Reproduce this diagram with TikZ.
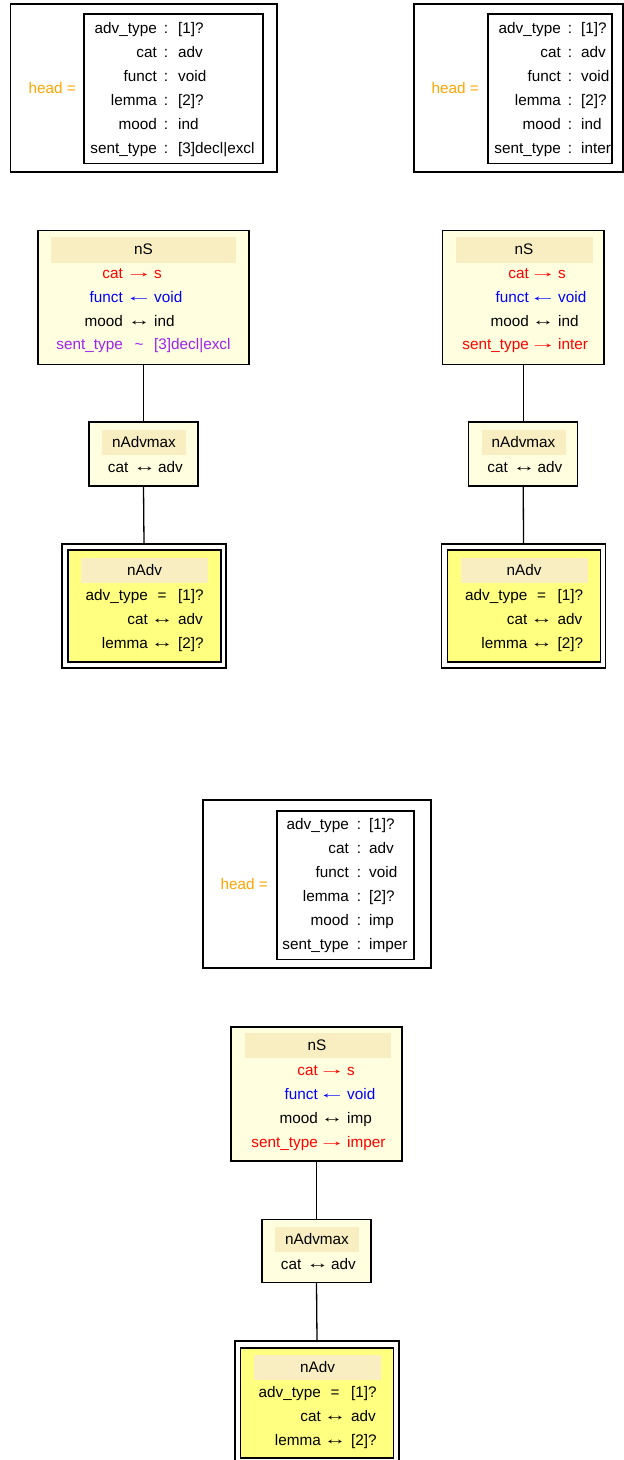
\documentclass[tikz,border=0pt]{standalone}
\usepackage{graphicx}
\usepackage{fontspec}
\setmainfont{Liberation Sans}
\newcommand\ra{\raisebox{0.8pt}{\scalebox{1.8}[1]{→}}}
\newcommand\la{\raisebox{0.8pt}{\scalebox{1.8}[1]{←}}}
\newcommand\lra{\raisebox{0.8pt}{\scalebox{1.5}[1]{↔}}}
\definecolor{nsfill}{HTML}{FFFFE0}
\definecolor{hdr}{HTML}{F8EEC2}
\definecolor{advfill}{HTML}{FFFF80}
\definecolor{headorange}{HTML}{FFA500}
\definecolor{tred}{HTML}{FF0000}
\definecolor{tblue}{HTML}{0000FF}
\definecolor{tpurple}{HTML}{A020F0}
\tikzset{
  txt/.style={inner sep=0pt, font=\fontsize{15.3}{18}\selectfont},
  frame/.style={draw=black, line width=1.1pt, inner sep=0pt},
  nsbox/.style={frame, fill=nsfill},
  advbox/.style={frame, fill=advfill},
  hdrband/.style={fill=hdr, draw=none, inner sep=0pt},
  link/.style={draw=black, line width=1.3pt},
}
\newcommand\frow[9]{%
  \node[txt, text=#9, anchor=base east] (#1a) at (#2,#5+5) {#6};
  \node[txt, text=#9, anchor=base] (#1b) at (#3,#5+5) {#7};
  \node[txt, text=#9, anchor=base west] (#1c) at (#4,#5+5) {#8};}
\begin{document}
\begin{tikzpicture}[x=1pt,y=-1pt]
\useasboundingbox (0,0) rectangle (624,1460);
\fill[white] (0,0) rectangle (624,1460);

% ---------------- head boxes ----------------
% left
\node[frame, minimum width=266.5pt, minimum height=168pt] (hLo) at (143.75,88) {};
\node[frame, minimum width=179pt, minimum height=149.5pt] (hLi) at (173.5,88.75) {};
\node[txt, text=headorange, anchor=base east] (hLlab) at (76,93) {head =};
\frow{hLr1}{157}{166}{178}{28}{adv\_type}{:}{[1]?}{black}
\frow{hLr2}{157}{166}{178}{52}{cat}{:}{adv}{black}
\frow{hLr3}{157}{166}{178}{76}{funct}{:}{void}{black}
\frow{hLr4}{157}{166}{178}{100}{lemma}{:}{[2]?}{black}
\frow{hLr5}{157}{166}{178}{124}{mood}{:}{ind}{black}
\frow{hLr6}{157}{166}{178}{148}{sent\_type}{:}{[3]decl|excl}{black}
% right
\node[frame, minimum width=209pt, minimum height=168pt] (hRo) at (518.5,88) {};
\node[frame, minimum width=124pt, minimum height=149.5pt] (hRi) at (550,88.75) {};
\node[txt, text=headorange, anchor=base east] (hRlab) at (479,93) {head =};
\frow{hRr1}{561}{570}{581}{28}{adv\_type}{:}{[1]?}{black}
\frow{hRr2}{561}{570}{581}{52}{cat}{:}{adv}{black}
\frow{hRr3}{561}{570}{581}{76}{funct}{:}{void}{black}
\frow{hRr4}{561}{570}{581}{100}{lemma}{:}{[2]?}{black}
\frow{hRr5}{561}{570}{581}{124}{mood}{:}{ind}{black}
\frow{hRr6}{561}{570}{581}{148}{sent\_type}{:}{inter}{black}
% bottom
\node[frame, minimum width=228pt, minimum height=168pt] (hBo) at (317,884) {};
\node[frame, minimum width=137pt, minimum height=148.5pt] (hBi) at (345.5,885.25) {};
\node[txt, text=headorange, anchor=base east] (hBlab) at (268,889) {head =};
\frow{hBr1}{349}{359}{369}{824}{adv\_type}{:}{[1]?}{black}
\frow{hBr2}{349}{359}{369}{848}{cat}{:}{adv}{black}
\frow{hBr3}{349}{359}{369}{872}{funct}{:}{void}{black}
\frow{hBr4}{349}{359}{369}{896}{lemma}{:}{[2]?}{black}
\frow{hBr5}{349}{359}{369}{920}{mood}{:}{imp}{black}
\frow{hBr6}{349}{359}{369}{944}{sent\_type}{:}{imper}{black}

% ---------------- left tree ----------------
\node[nsbox, minimum width=211pt, minimum height=134pt] (nSL) at (143.5,297.5) {};
\node[hdrband, minimum width=185pt, minimum height=26pt] (nSLh) at (143.5,250) {};
\node[txt, anchor=base] (nSLt) at (143.5,254) {nS};
\frow{nSL1}{123}{139}{154}{273}{cat}{\ra}{s}{tred}
\frow{nSL2}{123}{139}{154}{297}{funct}{\la}{void}{tblue}
\frow{nSL3}{123}{139}{154}{321}{mood}{\lra}{ind}{black}
\frow{nSL4}{123}{139}{154}{344}{sent\_type}{\textasciitilde}{[3]decl|excl}{tpurple}

\node[nsbox, minimum width=109pt, minimum height=64pt] (mxL) at (143.5,454) {};
\node[hdrband, minimum width=84pt, minimum height=25pt] (mxLh) at (144,442.5) {};
\node[txt, anchor=base] (mxLt) at (144,447) {nAdvmax};
\frow{mxL1}{128.5}{144.5}{158}{467}{cat}{\lra}{adv}{black}

\node[frame, minimum width=164pt, minimum height=124pt] (avLo) at (144,606) {};
\node[advbox, minimum width=153pt, minimum height=112pt] (avLi) at (144.5,606) {};
\node[hdrband, minimum width=127pt, minimum height=25pt] (avLh) at (144.5,570.5) {};
\node[txt, anchor=base] (avLt) at (144.5,575) {nAdv};
\frow{avL1}{148}{162}{178}{595}{adv\_type}{=}{[1]?}{black}
\frow{avL2}{148}{162}{178}{619}{cat}{\lra}{adv}{black}
\frow{avL3}{148}{162}{178}{643}{lemma}{\lra}{[2]?}{black}

\draw[link] (nSL.south) -- (mxL.north);
\draw[link] (mxL.south) -- (avLo.north);

% ---------------- right tree ----------------
\node[nsbox, minimum width=161.5pt, minimum height=134pt] (nSR) at (523.25,297.5) {};
\node[hdrband, minimum width=137pt, minimum height=26pt] (nSRh) at (524.5,250) {};
\node[txt, anchor=base] (nSRt) at (524,254) {nS};
\frow{nSR1}{529}{543}{558}{273}{cat}{\ra}{s}{tred}
\frow{nSR2}{529}{543}{558}{297}{funct}{\la}{void}{tblue}
\frow{nSR3}{529}{543}{558}{321}{mood}{\lra}{ind}{black}
\frow{nSR4}{529}{543}{558}{344}{sent\_type}{\ra}{inter}{tred}

\node[nsbox, minimum width=109pt, minimum height=64pt] (mxR) at (523.25,454) {};
\node[hdrband, minimum width=84pt, minimum height=25pt] (mxRh) at (523.5,442.5) {};
\node[txt, anchor=base] (mxRt) at (523.5,447) {nAdvmax};
\frow{mxR1}{508}{524}{537.5}{467}{cat}{\lra}{adv}{black}

\node[frame, minimum width=164pt, minimum height=124pt] (avRo) at (523.5,606) {};
\node[advbox, minimum width=153pt, minimum height=112pt] (avRi) at (524,606) {};
\node[hdrband, minimum width=127pt, minimum height=25pt] (avRh) at (524,570.5) {};
\node[txt, anchor=base] (avRt) at (524,575) {nAdv};
\frow{avR1}{527.5}{541.5}{557.5}{595}{adv\_type}{=}{[1]?}{black}
\frow{avR2}{527.5}{541.5}{557.5}{619}{cat}{\lra}{adv}{black}
\frow{avR3}{527.5}{541.5}{557.5}{643}{lemma}{\lra}{[2]?}{black}

\draw[link] (nSR.south) -- (mxR.north);
\draw[link] (mxR.south) -- (avRo.north);

% ---------------- bottom tree ----------------
\node[nsbox, minimum width=171pt, minimum height=134pt] (nSB) at (316.5,1094) {};
\node[hdrband, minimum width=146pt, minimum height=25pt] (nSBh) at (318,1045.5) {};
\node[txt, anchor=base] (nSBt) at (317,1050) {nS};
\frow{nSB1}{318}{332}{347}{1070}{cat}{\ra}{s}{tred}
\frow{nSB2}{318}{332}{347}{1094}{funct}{\la}{void}{tblue}
\frow{nSB3}{318}{332}{347}{1118}{mood}{\lra}{imp}{black}
\frow{nSB4}{318}{332}{347}{1142}{sent\_type}{\ra}{imper}{tred}

\node[nsbox, minimum width=109pt, minimum height=63pt] (mxB) at (316.5,1251) {};
\node[hdrband, minimum width=84pt, minimum height=25pt] (mxBh) at (317,1239.5) {};
\node[txt, anchor=base] (mxBt) at (317,1244) {nAdvmax};
\frow{mxB1}{301.5}{317.5}{331}{1264}{cat}{\lra}{adv}{black}

\node[frame, minimum width=164pt, minimum height=124pt] (avBo) at (317,1403) {};
\node[advbox, minimum width=153pt, minimum height=110pt] (avBi) at (317,1403) {};
\node[hdrband, minimum width=127pt, minimum height=25pt] (avBh) at (317.5,1367.5) {};
\node[txt, anchor=base] (avBt) at (317.5,1372) {nAdv};
\frow{avB1}{321}{335}{351}{1392}{adv\_type}{=}{[1]?}{black}
\frow{avB2}{321}{335}{351}{1416}{cat}{\lra}{adv}{black}
\frow{avB3}{321}{335}{351}{1440}{lemma}{\lra}{[2]?}{black}

\draw[link] (nSB.south) -- (mxB.north);
\draw[link] (mxB.south) -- (avBo.north);
\end{tikzpicture}
\end{document}
